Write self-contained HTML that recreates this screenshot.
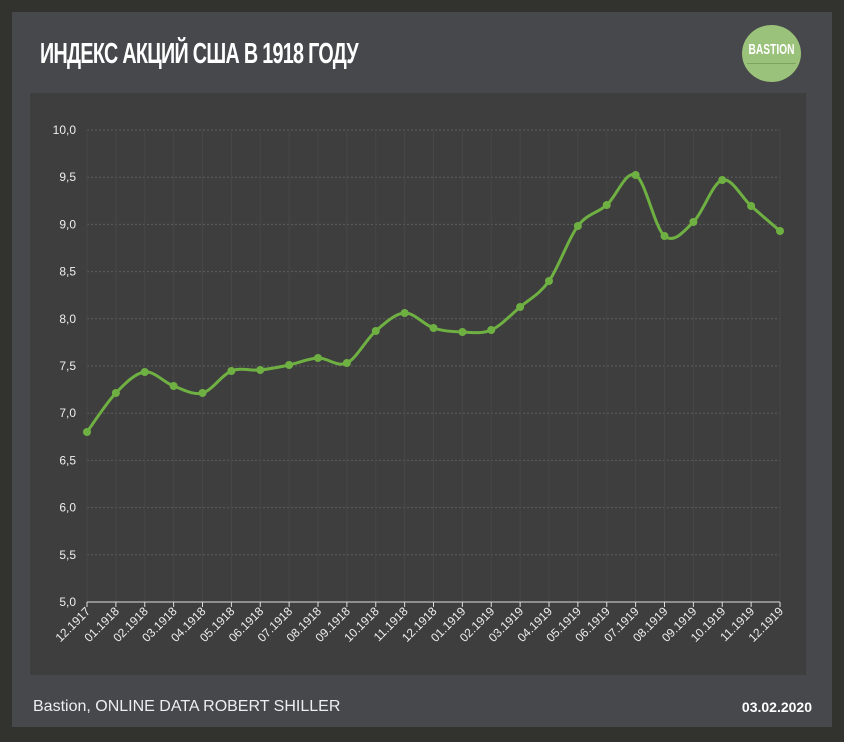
<!DOCTYPE html>
<html><head><meta charset="utf-8"><style>
body{margin:0;width:844px;height:742px;background:#32332e;overflow:hidden;font-family:"Liberation Sans",sans-serif}
#card{position:absolute;left:12px;top:12px;width:820px;height:715px;background:#47484c}
#title{position:absolute;left:40px;top:37px;color:#fff;font-family:"Liberation Sans Narrow","Liberation Sans",sans-serif;font-weight:bold;font-size:29px;letter-spacing:-1px;transform:scaleX(0.68);transform-origin:left top;line-height:34px;white-space:nowrap}
#logo{position:absolute;left:742px;top:25px;width:59px;height:57px;border-radius:50%;background:#9bc27a}
#logo span{position:absolute;left:-20px;right:-20px;top:16px;text-align:center;color:#fff;font-weight:bold;font-size:15px;transform:scaleX(0.68)}
#logo i{position:absolute;left:5px;right:5px;top:38px;border-top:1px solid #7ea35f}
#plot{position:absolute;left:30px;top:93px;width:776px;height:582px;background:#3e3e3e}
#foot{position:absolute;left:33px;top:698px;color:#eee;font-size:16px}
#date{position:absolute;right:32px;top:699px;color:#fff;font-size:14px;font-weight:bold}
</style></head><body>
<div id="card"></div>
<div id="title">ИНДЕКС АКЦИЙ США В 1918 ГОДУ</div>
<div id="logo"><span>BASTION</span><i></i></div>
<div id="plot"></div>
<svg id="s" width="844" height="742" style="position:absolute;left:0;top:0"></svg>
<div id="foot">Bastion, ONLINE DATA ROBERT SHILLER</div>
<div id="date">03.02.2020</div>
<script>
var s=document.getElementById('s'),h='';
var x0=87,x1=780,n=25,dx=(x1-x0)/24;
for(var i=0;i<=10;i++){var y=130+i*47.2;var v=(10-i*0.5).toFixed(1).replace('.',',');
h+='<line x1="87" x2="780" y1="'+y+'" y2="'+y+'" stroke="#5e5e5e" stroke-dasharray="2,2"/>';
h+='<text x="76" y="'+(y+4)+'" fill="#eee" font-size="12" text-anchor="end" font-family="Liberation Sans">'+v+'</text>';}
var labs=['12.1917'];for(var k=1;k<=12;k++)labs.push((k<10?'0':'')+k+'.1918');for(k=1;k<=12;k++)labs.push((k<10?'0':'')+k+'.1919');
for(i=0;i<n;i++){var x=x0+i*dx;
h+='<line x1="'+x+'" x2="'+x+'" y1="130" y2="602" stroke="#474747"/>';
h+='<line x1="'+x+'" x2="'+x+'" y1="602" y2="607" stroke="#ddd"/>';
h+='<text transform="translate('+(x+4)+',612) rotate(-45)" fill="#eee" font-size="12" text-anchor="end" font-family="Liberation Sans">'+labs[i]+'</text>';}
h+='<line x1="87" x2="780" y1="602" y2="602" stroke="#ddd"/>';
var ys=[432,393,372,386,393,371,370,365,358,363,331,313,328,332,330,307,281,226,205,175,236,222,180,206,231];
var P=ys.map(function(y,i){return[x0+i*dx,y]});
var d='M'+P[0][0]+','+P[0][1];
for(i=0;i<n-1;i++){var p0=P[Math.max(0,i-1)],p1=P[i],p2=P[i+1],p3=P[Math.min(n-1,i+2)],t=0.5/3*2;
d+=' C'+(p1[0]+(p2[0]-p0[0])*t/2)+','+(p1[1]+(p2[1]-p0[1])*t/2)+' '+(p2[0]-(p3[0]-p1[0])*t/2)+','+(p2[1]-(p3[1]-p1[1])*t/2)+' '+p2[0]+','+p2[1];}
h+='<path d="'+d+'" fill="none" stroke="#6fb043" stroke-width="3"/>';
P.forEach(function(p){h+='<circle cx="'+p[0]+'" cy="'+p[1]+'" r="4" fill="#6fb043"/>'});
s.innerHTML=h;
</script>
</body></html>
